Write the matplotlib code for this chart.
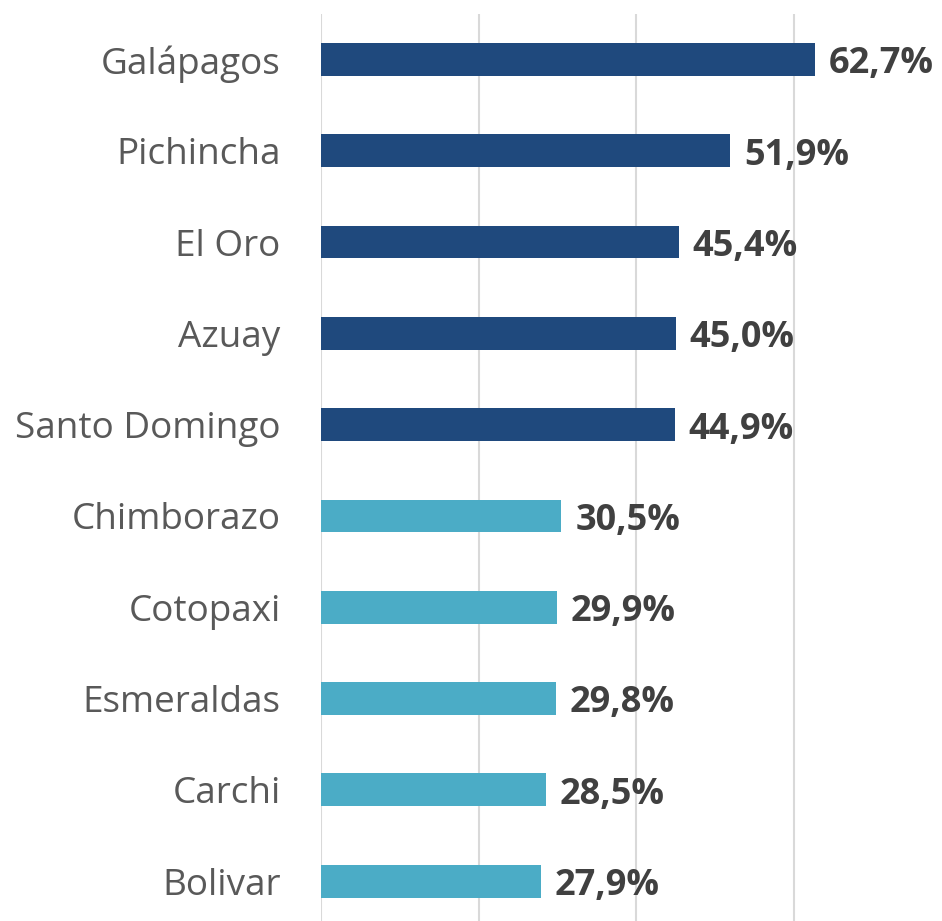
import matplotlib.pyplot as plt

provincias = ["Galápagos", "Pichincha", "El Oro", "Azuay", "Santo Domingo",
              "Chimborazo", "Cotopaxi", "Esmeraldas", "Carchi", "Bolivar"]
valores = [62.7, 51.9, 45.4, 45.0, 44.9, 30.5, 29.9, 29.8, 28.5, 27.9]
colores = ["#1F497D"] * 5 + ["#4BACC6"] * 5

fig = plt.figure(figsize=(9.42, 9.21), dpi=100)
ax = fig.add_axes([321 / 942, -5.8 / 921, 621 / 942, 913 / 921])

pos = range(len(provincias))
ax.barh(pos, valores, height=0.36, color=colores, zorder=2)

for i, v in enumerate(valores):
    etiqueta = f"{v:.1f}%".replace(".", ",")
    ax.annotate(etiqueta, (v, i), xytext=(10, -3.5), textcoords="offset points",
                ha="left", va="center", fontsize=26, fontweight="bold",
                color="#404040", family="Open Sans")

ax.set_xlim(0, 78.8)
ax.set_ylim(9.5, -0.5)
ax.set_yticks(list(pos))
ax.set_yticklabels(provincias, fontsize=26.6, color="#595959", family="Open Sans")
ax.tick_params(axis="y", length=0, pad=29)
ax.set_xticks([0, 20, 40, 60])
ax.tick_params(axis="x", length=0, labelbottom=False)
ax.grid(axis="x", color="#D9D9D9", linewidth=1.5, zorder=0)
for s in ax.spines.values():
    s.set_visible(False)

fig.savefig("out.png", dpi=100)
